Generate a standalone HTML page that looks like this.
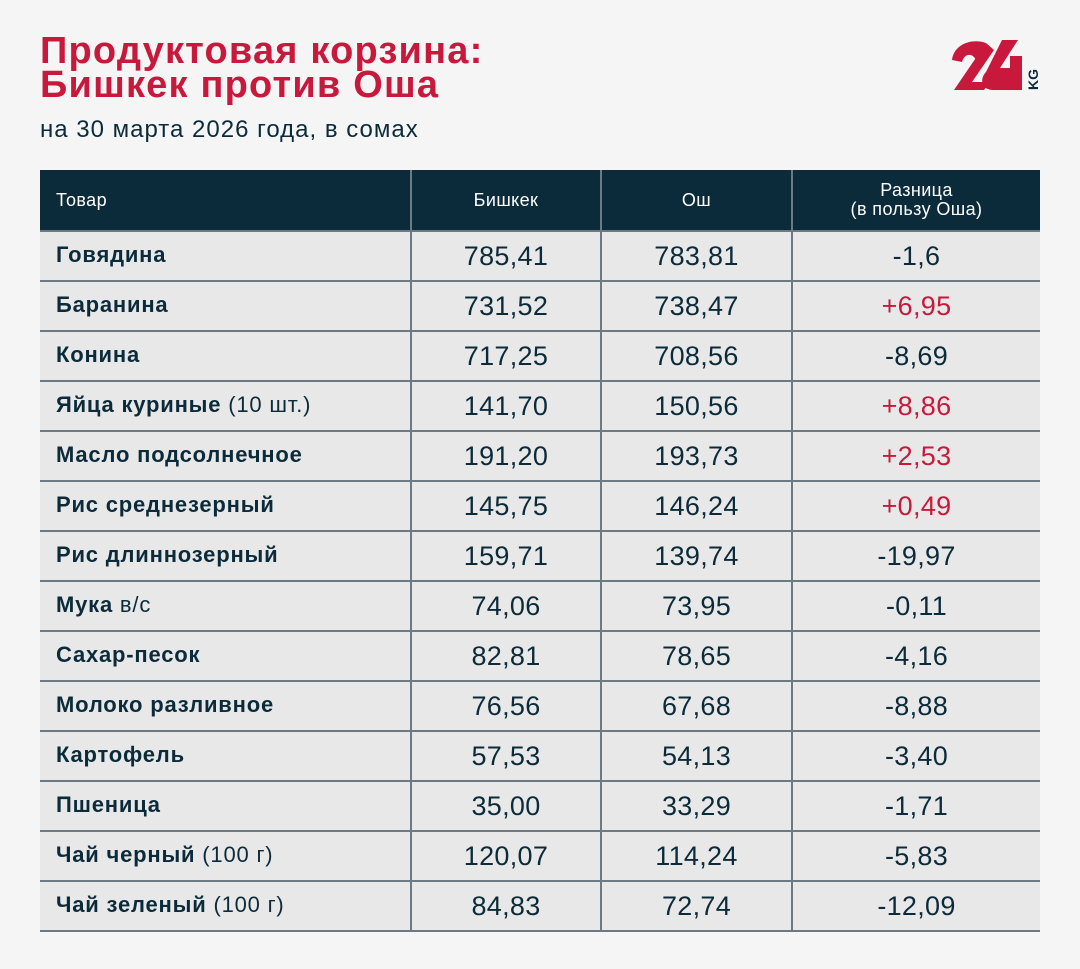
<!DOCTYPE html>
<html><head><meta charset="utf-8"><style>
body{margin:0;width:1080px;height:969px;background:#f5f5f5;font-family:"Liberation Sans",sans-serif;position:relative;overflow:hidden}
h1{position:absolute;left:40px;top:34px;margin:0;font-size:38px;line-height:34px;color:#c8193c;font-weight:bold;letter-spacing:1.2px}
.sub{position:absolute;left:40px;top:116px;font-size:24px;color:#0b2b3a;letter-spacing:1px}
table{position:absolute;left:40px;top:170px;width:1000px;border-collapse:collapse;table-layout:fixed}
th{background:#0b2b3a;color:#fff;font-weight:normal;font-size:18px;height:60px;padding:0;border-right:2px solid #6b7a85;line-height:19px;letter-spacing:0.4px}
th:last-child{border-right:none}
td{background:#e8e8e8;height:48px;line-height:30px;padding:0;border-top:2px solid #6b7a85;border-right:2px solid #6b7a85;text-align:center;font-size:27px;color:#0b2b3a;letter-spacing:0.3px}
td:last-child{border-right:none}
tr:last-child td{border-bottom:2px solid #6b7a85}
td:first-child{text-align:left;padding-left:16px;font-size:22px;font-weight:bold;letter-spacing:0.8px;padding-bottom:2px;height:46px}
td:first-child span{font-weight:normal}
th:first-child{text-align:left;padding-left:16px}
.r{color:#c8193c}
</style></head><body>
<h1>Продуктовая корзина:<br>Бишкек против Оша</h1>
<div class="sub">на 30 марта 2026 года, в сомах</div>
<svg style="position:absolute;left:950px;top:38px" width="95" height="55" viewBox="0 0 95 55">
<path d="M2 22 C4 6 22 0 36 5 L26 22 C22 14 14 16 12 24 Z" fill="#c8193c"/>
<path d="M36 5 L4 52 L34 52 L40 44 L22 44 L44 12 Z" fill="#c8193c"/>
<path d="M52 2 L68 2 L50 30 L60 30 L60 18 L72 18 L72 52 L44 52 C30 52 30 40 36 34 Z" fill="#c8193c"/>
<text x="88" y="52" transform="rotate(-90 88 52)" font-family="Liberation Sans" font-weight="bold" font-size="14" fill="#0b2b3a">KG</text>
</svg>
<table>
<colgroup><col style="width:371px"><col style="width:190px"><col style="width:191px"><col></colgroup>
<tr><th>Товар</th><th>Бишкек</th><th>Ош</th><th>Разница<br>(в пользу Оша)</th></tr>
<tr><td>Говядина</td><td>785,41</td><td>783,81</td><td>-1,6</td></tr>
<tr><td>Баранина</td><td>731,52</td><td>738,47</td><td class="r">+6,95</td></tr>
<tr><td>Конина</td><td>717,25</td><td>708,56</td><td>-8,69</td></tr>
<tr><td>Яйца куриные <span>(10 шт.)</span></td><td>141,70</td><td>150,56</td><td class="r">+8,86</td></tr>
<tr><td>Масло подсолнечное</td><td>191,20</td><td>193,73</td><td class="r">+2,53</td></tr>
<tr><td>Рис среднезерный</td><td>145,75</td><td>146,24</td><td class="r">+0,49</td></tr>
<tr><td>Рис длиннозерный</td><td>159,71</td><td>139,74</td><td>-19,97</td></tr>
<tr><td>Мука <span>в/с</span></td><td>74,06</td><td>73,95</td><td>-0,11</td></tr>
<tr><td>Сахар-песок</td><td>82,81</td><td>78,65</td><td>-4,16</td></tr>
<tr><td>Молоко разливное</td><td>76,56</td><td>67,68</td><td>-8,88</td></tr>
<tr><td>Картофель</td><td>57,53</td><td>54,13</td><td>-3,40</td></tr>
<tr><td>Пшеница</td><td>35,00</td><td>33,29</td><td>-1,71</td></tr>
<tr><td>Чай черный <span>(100 г)</span></td><td>120,07</td><td>114,24</td><td>-5,83</td></tr>
<tr><td>Чай зеленый <span>(100 г)</span></td><td>84,83</td><td>72,74</td><td>-12,09</td></tr>
</table>
</body></html>
